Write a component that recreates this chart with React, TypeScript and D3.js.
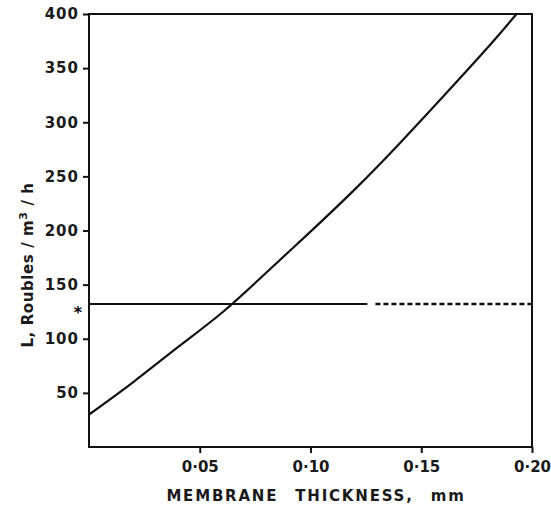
import * as d3 from 'd3'
import { useEffect, useRef } from 'react'

// membrane thickness (mm) vs cost L (roubles / m3 / h)
const thickness = [0, 0.02, 0.04, 0.06, 0.08, 0.1, 0.12, 0.14, 0.16, 0.18, 0.193]
const cost = [30, 60, 92, 124, 161, 199, 238, 280, 324, 369, 400]
const starLevel = 132
const solidEnd = 0.1257
const dashStart = 0.1293
const xTicks = [0.05, 0.1, 0.15, 0.2]
const yTicks = [50, 100, 150, 200, 250, 300, 350, 400]

const W = 551
const H = 506
const margin = { left: 89, right: 19, top: 14, bottom: 59 }

const App = () => {
  const svgRef = useRef<SVGSVGElement>(null)

  useEffect(() => {
    const svg = d3.select(svgRef.current)
    svg.selectAll('*').remove()
    const font = "'DejaVu Sans', sans-serif"

    const x = d3.scaleLinear().domain([0, 0.2]).range([margin.left, W - margin.right])
    const y = d3.scaleLinear().domain([0, 400]).range([H - margin.bottom, margin.top])

    // frame
    svg
      .append('rect')
      .attr('x', x(0))
      .attr('y', y(400))
      .attr('width', x(0.2) - x(0))
      .attr('height', y(0) - y(400))
      .attr('fill', 'none')
      .attr('stroke', '#111')
      .attr('stroke-width', 2)

    // y axis
    const yAxis = d3
      .axisLeft(y)
      .tickValues(yTicks)
      .tickSize(6)
      .tickSizeOuter(0)
      .tickPadding(4)
      .tickFormat((d) => String(d))
    const yG = svg.append('g').attr('transform', `translate(${x(0)},0)`).call(yAxis)
    yG.select('.domain').remove()
    yG.selectAll('line').attr('stroke', '#111').attr('stroke-width', 2)
    yG.selectAll('text')
      .style('font-family', font)
      .style('font-size', '15px')
      .style('font-weight', 'bold')
      .style('letter-spacing', '1px')
      .attr('fill', '#1a1a1a')

    // x axis
    const xAxis = d3
      .axisBottom(x)
      .tickValues(xTicks)
      .tickSize(6)
      .tickSizeOuter(0)
      .tickPadding(8)
      .tickFormat((d) => d3.format('.2f')(d as number).replace('.', '·'))
    const xG = svg.append('g').attr('transform', `translate(0,${y(0)})`).call(xAxis)
    xG.select('.domain').remove()
    xG.selectAll('line').attr('stroke', '#111').attr('stroke-width', 2)
    xG.selectAll('text')
      .style('font-family', font)
      .style('font-size', '15px')
      .style('font-weight', 'bold')
      .attr('fill', '#1a1a1a')

    // cost curve
    const line = d3
      .line<number>()
      .x((d, i) => x(thickness[i]))
      .y((d) => y(d))
      .curve(d3.curveNatural)
    svg
      .append('path')
      .attr('d', line(cost))
      .attr('fill', 'none')
      .attr('stroke', '#111')
      .attr('stroke-width', 2.2)

    // reference level
    svg
      .append('line')
      .attr('x1', x(0))
      .attr('x2', x(solidEnd))
      .attr('y1', y(starLevel))
      .attr('y2', y(starLevel))
      .attr('stroke', '#111')
      .attr('stroke-width', 2)
    svg
      .append('line')
      .attr('x1', x(dashStart))
      .attr('x2', x(0.2))
      .attr('y1', y(starLevel))
      .attr('y2', y(starLevel))
      .attr('stroke', '#111')
      .attr('stroke-width', 2.5)
      .attr('stroke-dasharray', '5,3')
    svg
      .append('text')
      .attr('x', x(0) - 11)
      .attr('y', y(starLevel) + 14)
      .attr('text-anchor', 'middle')
      .style('font-family', font)
      .style('font-size', '16px')
      .style('font-weight', 'bold')
      .text('*')

    // axis titles
    svg
      .append('text')
      .attr('x', 316)
      .attr('y', 501)
      .attr('text-anchor', 'middle')
      .style('font-family', font)
      .style('font-size', '15px')
      .style('font-weight', 'bold')
      .style('letter-spacing', '1.8px')
      .style('word-spacing', '10px')
      .attr('fill', '#1a1a1a')
      .text('MEMBRANE THICKNESS, mm')

    const yt = svg
      .append('text')
      .attr('transform', `translate(33,265) rotate(-90)`)
      .attr('text-anchor', 'middle')
      .style('font-family', font)
      .style('font-size', '15px')
      .style('font-weight', 'bold')
      .style('letter-spacing', '0.6px')
      .attr('fill', '#1a1a1a')
    yt.append('tspan').text('L, Roubles / m')
    yt.append('tspan').attr('dy', -6).style('font-size', '11px').text('3')
    yt.append('tspan').attr('dy', 6).text(' / h')
  }, [])

  return (
    <svg
      ref={svgRef}
      width={W}
      height={H}
      style={{ position: 'absolute', left: 0, top: 0, background: '#fff' }}
    />
  )
}

export default App
